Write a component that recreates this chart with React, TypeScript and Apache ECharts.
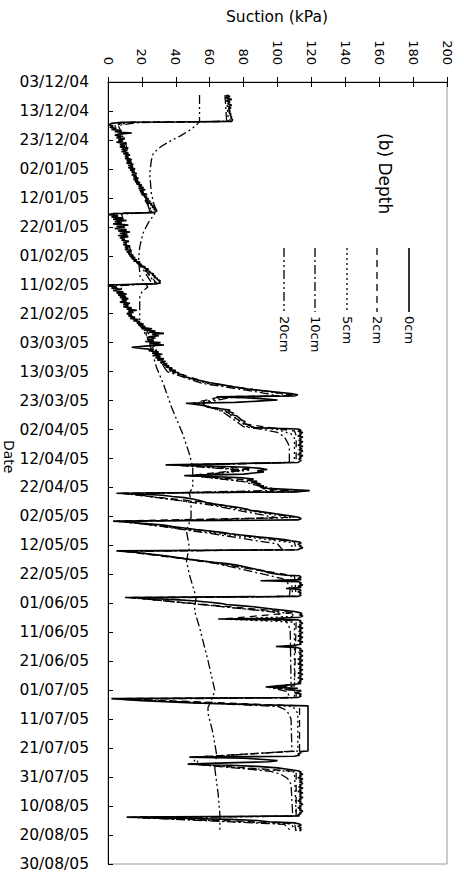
import React, { useEffect, useRef } from "react";
import * as echarts from "echarts";

// Y axis: days since 03/12/04, one label every 10 days
const dateLabels = [
  "03/12/04", "13/12/04", "23/12/04", "02/01/05", "12/01/05", "22/01/05", "01/02/05",
  "11/02/05", "21/02/05", "03/03/05", "13/03/05", "23/03/05", "02/04/05", "12/04/05",
  "22/04/05", "02/05/05", "12/05/05", "22/05/05", "01/06/05", "11/06/05", "21/06/05",
  "01/07/05", "11/07/05", "21/07/05", "31/07/05", "10/08/05", "20/08/05", "30/08/05",
];
const suctionTicks = [0, 20, 40, 60, 80, 100, 120, 140, 160, 180, 200];

// [day, suction kPa]
const depth0cm: number[][] = [
  [4.5,70],[5,72],[5.5,69],[6,73],[6.5,70],[7,72],[7.5,70.5],[8,73],[8.5,71],[9,72.5],[9.5,71],[10,72],[10.5,71.5],[11,72.5],[11.5,72],[12,73],[12.5,72.5],[13,73.5],[13.6,73],
  [13.8,40],[13.9,8],[14.3,2],[14.8,0.5],
  [15.2,3],[15.6,1],[16,5],[16.4,2],[16.8,8],[17.2,4],[17.6,14],[18,6],[18.4,4],[18.8,9],[19.2,5],[19.6,10],[20,6],[20.4,9],[20.8,5],[21.2,11],[21.6,7],[22,10],[22.4,7],[22.8,12],[23.2,8],[23.6,11],[24,8],[24.4,12],[24.8,9],[25.2,13],[25.6,10],[26,12],[26.4,10],[26.8,14],[27.2,11],[27.6,13],[28,11],[28.4,15],[28.8,12],[29.2,14],[29.6,12],[30,16],[30.4,13],[30.8,15],[31.2,14],[31.6,17],[32,14],[32.4,16],[32.8,15],[33.2,18],[33.6,15],[34,17],[34.4,16],[34.8,19],[35.2,17],[35.6,20],[36,18],[36.4,21],[36.8,18],[37.2,22],[37.6,19],[38,21],[38.4,20],[38.8,23],[39.2,21],[39.6,23],[40,22],[40.4,24],[40.8,22],[41.2,25],[41.6,23],[42,26],[42.4,25],[42.8,27],[43.2,26],[43.6,28],[44,27],[44.4,29],[44.8,28],[45.1,27],
  [45.3,12],[45.5,2],[45.8,0.5],
  [46.2,6],[46.6,2],[47,9],[47.4,3],[47.8,11],[48.2,4],[48.6,8],[49,3],[49.4,12],[49.8,5],[50.2,10],[50.6,4],[51,11],[51.4,6],[51.8,13],[52.2,7],[52.6,11],[53,6],[53.4,12],[53.8,7],[54.2,10],[54.6,8],[55,12],[55.4,9],[55.8,11],[56.2,9],[56.6,13],[57,10],[57.4,12],[57.8,10],[58.2,14],[58.6,11],[59,13],[59.4,12],[59.8,15],[60.2,13],[60.6,16],[61,14],[61.4,17],[61.8,15],[62.2,19],[62.6,17],[63,20],[63.4,19],[63.8,22],[64.2,21],[64.6,24],[65,22],[65.4,25],[65.8,24],[66.2,27],[66.6,26],[67,28],[67.4,27],[67.8,29],[68.2,29],[68.6,31],[69,30],[69.4,31],[69.7,28],
  [69.9,10],[70.1,1],[70.4,0],
  [70.8,5],[71.2,2],[71.6,8],[72,3],[72.4,9],[72.8,5],[73.2,11],[73.6,6],[74,10],[74.4,7],[74.8,12],[75.2,8],[75.6,11],[76,7],[76.4,13],[76.8,9],[77.2,12],[77.6,9],[78,14],[78.4,11],[78.8,17],[79.2,12],[79.6,15],[80,11],[80.4,14],[80.8,12],[81.2,16],[81.6,13],[82,18],[82.4,15],[82.8,19],[83.2,17],[83.6,21],[84,18],[84.4,22],[84.8,20],[85.2,26],[85.6,22],[86,28],[86.4,24],[86.8,33],[87.2,26],[87.6,30],[88,24],[88.4,28],[88.8,23],[89.2,27],[89.6,22],[90,31],[90.4,25],[90.8,33],[91.2,22],[91.6,14],[92,20],[92.4,27],[92.8,24],[93.2,30],[93.6,26],[94,32],[94.4,27],[94.8,31],[95.2,28],[95.6,33],[96,29],[96.4,34],[96.8,31],[97.2,35],[97.6,32],[98,36],[98.4,34],[98.8,38],[99.2,36],[99.6,40],[100,38],[100.4,42],[100.8,41],[101.2,45],[101.6,44],[102,47],[102.4,49],[102.8,52],[103.2,55],[103.6,58],[104,62],[104.4,66],[104.8,70],[105.2,74],[105.6,78],[106,82],[106.4,88],[106.8,95],[107.2,102],[107.6,108],[108,112],[108.4,110],
  [108.7,64],[109,80],[109.4,92],[109.8,100],[110.2,88],[110.6,75],[110.9,46],[111.3,52],[111.8,57],[112.3,59],[112.8,66],[113.3,72],[113.8,71],[114.3,74],[114.8,73],[115.3,76],[115.8,77],[116.3,78],[116.8,79],[117.3,81],[117.8,80],[118.3,82],[118.8,84],[119.3,86],[119.6,100],[119.8,112],
  [120.2,114],[120.6,112],[121,115],[121.4,113],[121.8,114],[122.2,112],[122.6,115],[123,113],[123.4,114],[123.8,112.5],[124.2,115],[124.6,113],[125,114],[125.4,112],[125.8,115],[126.2,113],[126.6,114.5],[127,112.5],[127.4,115],[127.8,113],[128.2,114],[128.6,112],[129,115],[129.4,113],[129.8,114],[130.2,112.5],[130.6,114],[131,113],[131.4,112],
  [132.2,34],[132.6,60],[133,82],[133.4,90],[133.8,94],[134.2,88],[134.6,92],[135,86],[135.4,80],[135.9,45],[136.3,64],[136.7,80],[137.1,86],[137.5,82],[137.9,88],[138.3,85],[138.7,90],[139.1,88],[139.5,92],[139.9,90],[140.3,94],[140.7,108],[141.1,119],[141.5,112],
  [142,5],[142.3,20],[142.7,32],[143.1,38],[143.5,45],[144,50],[144.5,54],[145,57],[145.5,60],[146,66],[146.5,72],[147,78],[147.5,82],[148,85],[148.5,92],[149,98],[149.5,104],[150,110],[150.4,113],[150.8,114],[151.2,112],
  [151.6,3],[152,12],[152.5,24],[153,33],[153.5,38],[154,45],[154.5,52],[155,60],[155.5,67],[156,72],[156.5,80],[157,88],[157.5,96],[158,104],[158.4,108],[158.8,113],[159.2,114],[159.6,112],[160,114],[160.4,113],[160.8,115],[161.2,113],[161.5,112],
  [161.9,5],[162.3,14],[162.8,22],[163.3,30],[163.8,36],[164.3,42],[164.8,48],[165.3,55],[165.8,62],[166.3,70],[166.8,76],[167.3,80],[167.8,84],[168.3,88],[168.8,92],[169.3,94],[169.8,98],[170.3,105],[170.5,113],
  [171,114],[171.4,112],[171.8,114],[172.2,90],[172.5,112],[172.9,114],[173.3,113],[173.7,115],[174.1,112],[174.5,114],[174.9,105],[175.2,113],[175.6,114],[176,112],[176.4,114],[176.8,113],[177.2,114],[177.6,112],
  [178,10],[178.4,28],[178.8,42],[179.2,52],[179.6,60],[180,66],[180.4,70],[180.8,78],[181.2,86],[181.6,92],[182,97],[182.4,104],[182.8,110],[183.2,113],[183.6,114.5],
  [184,113],[184.4,115],[184.8,113],[185.2,100],[185.4,65],[185.7,112],[186.1,114],[186.5,113],[186.9,115],[187.3,113],[187.7,114],[188.1,112],[188.5,115],[188.9,113],[189.3,114],[189.7,112.5],[190.1,115],[190.5,113],[190.9,114],[191.3,112],[191.7,115],[192.1,113],[192.5,114],[192.9,112],[193.3,115],[193.7,113],[194.1,114],[194.5,110],[194.9,99],[195.3,112],[195.7,114],[196.1,113],[196.5,115],[196.9,112.5],[197.3,114],[197.7,113],[198.1,115],[198.5,113],[198.9,114],[199.3,112],[199.7,115],[200.1,113],[200.5,114],[200.9,112],[201.3,115],[201.7,113],[202.1,114],[202.5,112.5],[202.9,115],[203.3,113],[203.7,114],[204.1,112],[204.5,115],[204.9,113],[205.3,114],[205.7,112],[206.1,115],[206.5,113],[206.9,114],[207.3,112],[207.7,114],[208.1,108],[208.5,100],[208.9,93],[209.3,112],[209.7,105],[210.1,114],[210.5,113],[210.9,110],[211.3,114],[211.7,113],[212.1,114],[212.5,112],
  [212.9,2],[213.6,20],[214.4,50],[215,90],[215.4,118],[223,118],[231,118],
  [231.2,113],[231.6,114],[232,112],[232.4,113],[232.8,110],[233.1,48],[233.5,80],[233.9,92],[234.3,100],[234.7,95],[235.1,70],[235.5,47],[235.9,72],[236.3,88],[236.8,100],[237.3,106],[237.8,112],[238.2,114],
  [238.6,113],[239,115],[239.4,113],[239.8,114],[240.2,112],[240.6,115],[241,113],[241.4,114.5],[241.8,113],[242.2,115],[242.6,113],[243,114],[243.4,112.5],[243.8,115],[244.2,113],[244.6,114],[245,112],[245.4,115],[245.8,113],[246.2,114],[246.6,113],[247,115],[247.4,113],[247.8,114],[248.2,112],[248.6,114],[249,113],[249.4,115],[249.8,113],[250.2,114],[250.6,112],[251,114],[251.4,113],[251.8,115],[252.2,113],[252.6,114],[253,112],[253.4,113],
  [253.8,11],[254.2,40],[254.6,72],[255,88],[255.4,95],[255.8,110],[256.2,113],[256.6,114],[257,112],[257.4,114],[257.8,113],[258.2,114],[258.6,113],
];

const depth2cm: number[][] = [
  [4.5,71],[13.6,72],[13.9,10],[15,2],[20,8],[25,10],[30,14],[35,17],[40,21],[45,26],[45.4,3],[50,8],[55,10],[60,13],[65,22],[69.6,29],[70.1,2],[75,9],[80,12],[85,22],[90,27],[95,30],[100,38],[104,60],[106.5,90],[108.2,110],[108.7,66],[110.9,50],[113,68],[118,80],[119.7,100],[120.5,110],[122,111],[131.3,111],[132.2,38],[133.5,85],[135.9,48],[137.5,84],[140.5,92],[141.3,114],[142,7],[145,56],[150.3,110],[151.6,5],[155,58],[158.8,110],[161.5,111],[161.9,7],[165,50],[170.5,110],[177.6,111],[178,12],[183.2,110],[185.4,68],[186,111],[208.5,110],[209,95],[210,111],[212.5,111],[212.9,4],[215.4,113],[231,113],[233.1,50],[235.5,49],[238,111],[253.5,111],[253.8,14],[256,110],[258.6,111],
];

const depth5cm: number[][] = [
  [4.5,70],[13.6,71],[13.9,14],[15,4],[20,9],[25,11],[30,15],[35,18],[40,22],[45,26],[45.5,5],[50,9],[55,11],[60,14],[65,22],[69.6,28],[70.2,4],[75,10],[80,13],[85,21],[90,26],[95,30],[100,37],[104,58],[107,95],[108.3,109],[108.8,70],[111,52],[114,70],[119,82],[120,100],[121.5,108],[123,110],[131.3,110],[132.3,40],[134,84],[136,50],[138,82],[140.8,100],[141.5,110],[142.1,10],[146,62],[150.4,108],[151.7,8],[156,66],[159,108],[161.5,109],[162,10],[166,65],[170.6,108],[177.6,109],[178.1,15],[183.5,108],[184.5,110],[185.5,70],[186.5,110],[208.5,110],[209,96],[210,110],[212.6,110],[213,6],[215.6,109],[218,112],[231,112],[233.1,52],[235.5,50],[238.2,110],[253.5,111],[253.9,16],[256.2,108],[258.6,111],
];

const depth10cm: number[][] = [
  [4.5,69],[13.6,70],[14,18],[15,6],[20,10],[25,12],[30,15],[35,18],[40,22],[45,25],[45.6,8],[50,10],[55,12],[60,14],[65,21],[69.6,26],[70.3,7],[75,11],[80,13],[85,20],[90,25],[95,29],[100,35],[104,55],[107,88],[108.4,100],[109,72],[111,55],[114,68],[119,80],[120,92],[121,100],[122.5,104],[124.5,106],[126,107],[131.3,107],[132.4,42],[134,80],[136,52],[138,80],[141,98],[142.2,14],[146,60],[150.5,100],[151.8,12],[156,62],[159.5,100],[161.5,103],[162.1,14],[166,62],[170.8,98],[171.5,103],[173,106],[175,107.5],[177.6,107],[178.2,18],[183,98],[184,102],[185.5,104],[187,106],[189,107.5],[208,108],[209,95],[210.5,106],[212.6,107],[213.1,8],[215.6,100],[216.5,104],[218,106.5],[220,108],[231,108.5],[233.2,54],[235.6,52],[238,96],[239,102],[240.5,106],[242.5,108],[253.5,109],[254,18],[256.3,104],[258.6,108],
];

const depth20cm: number[][] = [
  [4.5,54],[13.6,54],[15,52],[16.7,48],[18.5,43],[20,38],[22,32],[23.6,28.6],[25,26.5],[27,25.6],[31.6,24.6],[38.5,25.6],[42,27],[44.3,28.6],[46,27],[47.8,24.6],[50,22.5],[52.3,20.6],[57,18.7],[61.6,18],[67.3,19],[69.5,22],[70.8,23.5],[72.5,20],[74.3,18.7],[82,18.7],[84.6,20.7],[90.3,24.6],[98.5,28.6],[104,32.5],[112.3,37.5],[121.4,44],[128.4,48],[133,50],[140,50],[142,48],[144.5,49],[150.3,49],[153,47.5],[155,46.3],[160.7,48],[165.3,46.3],[170,48],[178,52],[182.5,51],[188.3,54],[199.8,59],[210,63],[212,62],[216,59],[218,59],[225,62],[232,64],[237,63],[245.8,65],[252.8,66],[258.5,66],
];

const seriesNames = ["0cm", "2cm", "5cm", "10cm", "20cm"];
const seriesData = [depth0cm, depth2cm, depth5cm, depth10cm, depth20cm];
const dashes: (number[] | "solid")[] = ["solid", [7, 5], [2, 3], [9, 3, 2, 3], [9, 3, 2, 3, 2, 3]];
const widths = [1.6, 1.3, 1.3, 1.3, 1.3];
const legendX = [409, 377, 347, 315, 284];

const FONT = "DejaVu Sans";

export default function App() {
  const ref = useRef<HTMLDivElement>(null);
  useEffect(() => {
    document.body.style.margin = "0";
    const chart = echarts.init(ref.current!, null, { renderer: "svg" });
    const series = seriesData.map((d, i) => ({
      name: seriesNames[i],
      type: "line",
      xAxisIndex: 0,
      yAxisIndex: 0,
      data: d.map((p) => [p[1], p[0]]),
      showSymbol: false,
      symbol: "none",
      clip: true,
      lineStyle: { color: "#000", width: widths[i], type: dashes[i] },
      z: 5 - i,
    }));
    const legendGraphics: any[] = [];
    seriesNames.forEach((n, i) => {
      legendGraphics.push({
        type: "line",
        shape: { x1: legendX[i], y1: 248, x2: legendX[i], y2: 312 },
        style: { stroke: "#000", lineWidth: widths[i], lineDash: dashes[i] === "solid" ? null : dashes[i] },
      });
      legendGraphics.push({
        type: "text",
        x: legendX[i],
        y: 316,
        rotation: -Math.PI / 2,
        style: { text: n, fontSize: 13, fontFamily: FONT, fill: "#000", textAlign: "left", textVerticalAlign: "middle" },
      });
    });
    chart.setOption({
      animation: false,
      grid: { left: 108, right: 17, top: 82, bottom: 10, show: true, borderColor: "#999", borderWidth: 1, containLabel: false },
      xAxis: [
        {
          type: "value",
          position: "top",
          min: suctionTicks[0],
          max: suctionTicks[suctionTicks.length - 1],
          interval: suctionTicks[1] - suctionTicks[0],
          axisLine: { show: true, lineStyle: { color: "#000", width: 1 } },
          axisTick: { show: true, inside: false, length: 5, lineStyle: { color: "#000" } },
          axisLabel: { rotate: -90, margin: 17, fontSize: 13, fontFamily: FONT, color: "#000" },
          splitLine: { show: false },
        },
        {
          type: "value",
          position: "top",
          min: suctionTicks[0],
          max: suctionTicks[suctionTicks.length - 1],
          interval: suctionTicks[1] - suctionTicks[0],
          axisLine: { show: false },
          axisTick: { show: true, inside: true, length: 5, lineStyle: { color: "#000" } },
          axisLabel: { show: false },
          splitLine: { show: false },
        },
      ],
      yAxis: {
        type: "value",
        inverse: true,
        min: 0,
        max: (dateLabels.length - 1) * 10,
        interval: 10,
        axisLine: { show: true, lineStyle: { color: "#000", width: 1 } },
        axisTick: { show: true, inside: true, length: 5, lineStyle: { color: "#000" } },
        axisLabel: {
          margin: 19,
          fontSize: 15.5,
          fontFamily: FONT,
          color: "#000",
          formatter: (v: number) => dateLabels[Math.round(v / 10)] ?? "",
        },
        splitLine: { show: false },
      },
      series,
      graphic: [
        {
          type: "text",
          x: 277,
          y: 17,
          style: { text: "Suction (kPa)", fontSize: 15.5, fontFamily: FONT, fill: "#000", textAlign: "center", textVerticalAlign: "middle" },
        },
        {
          type: "text",
          x: 9,
          y: 440,
          rotation: -Math.PI / 2,
          style: { text: "Date", fontSize: 14, fontFamily: FONT, fill: "#000", textAlign: "left", textVerticalAlign: "middle" },
        },
        {
          type: "text",
          x: 385,
          y: 133,
          rotation: -Math.PI / 2,
          style: { text: "(b) Depth", fontSize: 17, fontFamily: FONT, fill: "#000", textAlign: "left", textVerticalAlign: "middle" },
        },
        ...legendGraphics,
      ],
    });
    return () => chart.dispose();
  }, []);
  return <div ref={ref} style={{ width: 464, height: 874 }} />;
}
